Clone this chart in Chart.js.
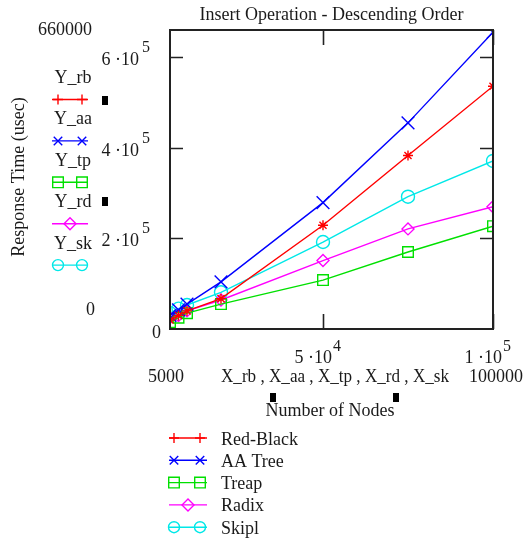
<!DOCTYPE html>
<html>
<head>
<meta charset="utf-8">
<script src="https://cdn.jsdelivr.net/npm/chart.js@4"></script>
<style>
  html, body { margin: 0; padding: 0; background: #fff; }
</style>
</head>
<body>
<canvas id="insert-desc-chart" width="523" height="539"></canvas>
<script>
// number of nodes (x) and response times in usec (y)
const nodes = [5000, 7500, 10000, 20000, 50000, 75000, 100000];
const yRedBlack = [20000, 30000, 40000, 67000, 229000, 383000, 536000];
const yAATree = [30000, 42000, 55000, 104000, 279000, 455000, 655000];
const yTreap = [15000, 25000, 35000, 55000, 108000, 170000, 227000];
const yRadix = [25000, 30000, 40000, 64000, 151000, 221000, 270000];
const ySkipl = [35000, 45000, 53000, 81000, 192000, 292000, 371000];

const seriesNames = ["Red-Black", "AA Tree", "Treap", "Radix", "Skipl"];
const varNames = ["Y_rb", "Y_aa", "Y_tp", "Y_rd", "Y_sk"];
const yTicks = [200000, 400000, 600000];
const xTicks = [50000, 100000];
const xMin = 5000, xMax = 100000, yMin = 0, yMax = 660000;

const FONT = "18px 'Liberation Serif', 'Times New Roman', serif";
const SUP = "16px 'Liberation Serif', 'Times New Roman', serif";
const TXT = "#1a1a1a";

// marker looks (plot / legend)
const looks = [
  { color: "#ff0000", plot: "star", r: 5, legend: "cross", lr: 5 },
  { color: "#0000ff", plot: "crossRot", r: 9, legend: "crossRot", lr: 6 },
  { color: "#00e000", plot: "rect", r: 7.5, legend: "rect", lr: 7.5 },
  { color: "#ff00ff", plot: "rectRot", r: 6, legend: "rectRot", lr: 6 },
  { color: "#00e8e8", plot: "circle", r: 6.5, legend: "circle", lr: 5.5 },
];

const allY = [yRedBlack, yAATree, yTreap, yRadix, ySkipl];

const datasets = allY.map((ys, i) => ({
  label: seriesNames[i],
  data: nodes.map((x, k) => ({ x: x, y: ys[k] })),
  borderColor: looks[i].color,
  backgroundColor: "rgba(0,0,0,0)",
  borderWidth: 1.4,
  pointStyle: looks[i].plot,
  pointRadius: looks[i].r,
  pointBorderWidth: 1.4,
  pointBorderColor: looks[i].color,
  pointBackgroundColor: "rgba(0,0,0,0)",
  tension: 0,
}));

function sci(v) {
  const e = Math.floor(Math.log10(v));
  const m = Math.round(v / Math.pow(10, e));
  return { main: m + " \u00b710", exp: String(e) };
}

function legendRow(ctx, i, x1, x2, y, xs) {
  const lk = looks[i];
  ctx.save();
  ctx.strokeStyle = lk.color;
  ctx.fillStyle = "rgba(0,0,0,0)";
  ctx.lineWidth = 1.4;
  ctx.beginPath();
  ctx.moveTo(x1, y);
  ctx.lineTo(x2, y);
  ctx.stroke();
  xs.forEach(function (mx) {
    Chart.helpers.drawPoint(ctx, { pointStyle: lk.legend, radius: lk.lr, borderWidth: 1.4, rotation: 0 }, mx, y);
  });
  ctx.restore();
}

const mathcadLook = {
  id: "mathcadLook",
  afterDraw(chart) {
    const ctx = chart.ctx;
    const a = chart.chartArea;
    const xs = chart.scales.x, ys = chart.scales.y;

    // frame and inner ticks
    ctx.save();
    ctx.strokeStyle = "#222";
    ctx.lineWidth = 2;
    ctx.strokeRect(a.left, a.top, a.right - a.left, a.bottom - a.top);
    ctx.lineWidth = 1.6;
    ctx.beginPath();
    yTicks.forEach(function (v) {
      const py = Math.round(ys.getPixelForValue(v)) + 0.5;
      ctx.moveTo(a.left, py); ctx.lineTo(a.left + 13, py);
      ctx.moveTo(a.right, py); ctx.lineTo(a.right - 13, py);
    });
    xTicks.forEach(function (v) {
      const px = Math.round(xs.getPixelForValue(v)) + 0.5;
      ctx.moveTo(px, a.bottom); ctx.lineTo(px, a.bottom - 15);
      ctx.moveTo(px, a.top); ctx.lineTo(px, a.top + 15);
    });
    ctx.stroke();

    ctx.fillStyle = TXT;
    ctx.font = FONT;
    ctx.textBaseline = "alphabetic";

    // title
    ctx.textAlign = "center";
    ctx.fillText("Insert Operation - Descending Order", (a.left + a.right) / 2, 20);

    // y tick labels
    yTicks.forEach(function (v) {
      const py = ys.getPixelForValue(v);
      const t = sci(v);
      ctx.font = FONT; ctx.textAlign = "right";
      ctx.fillText(t.main, 139, py + 8);
      ctx.font = SUP; ctx.textAlign = "left";
      ctx.fillText(t.exp, 142, py - 5);
    });
    // x tick labels
    xTicks.forEach(function (v) {
      const px = xs.getPixelForValue(v);
      const t = sci(v);
      ctx.font = FONT; ctx.textAlign = "right";
      ctx.fillText(t.main, px + 9, 363);
      ctx.font = SUP; ctx.textAlign = "left";
      ctx.fillText(t.exp, px + 10, 351);
    });

    ctx.font = FONT;
    ctx.textAlign = "left";
    ctx.fillText(String(yMax), 38, 35);
    ctx.fillText(String(yMin), 86, 315);
    ctx.fillText("0", 152, 338);
    ctx.fillText(String(xMin), 148, 382);
    ctx.fillText(String(xMax), 469, 382);
    ctx.textAlign = "center";
    ctx.fillText("X_rb , X_aa , X_tp , X_rd , X_sk", 335, 382, 228);
    ctx.fillText("Number of Nodes", 330, 416);

    // y axis title
    ctx.save();
    ctx.translate(24, 177);
    ctx.rotate(-Math.PI / 2);
    ctx.fillText("Response Time (usec)", 0, 0);
    ctx.restore();

    // little black marks
    ctx.fillStyle = "#000";
    ctx.fillRect(102, 96, 6, 9);
    ctx.fillRect(102, 197, 6, 9);
    ctx.fillRect(270, 393, 6, 9);
    ctx.fillRect(393, 393, 6, 9);

    // left variable legend
    ctx.fillStyle = TXT;
    ctx.textAlign = "center";
    for (let i = 0; i < 5; i++) {
      const ly = 99.5 + i * 41.4;
      ctx.fillText(varNames[i], 73, ly - 16.5);
      legendRow(ctx, i, 52, 88, ly, i === 3 ? [70] : [58, 82]);
    }

    // bottom legend
    ctx.textAlign = "left";
    for (let i = 0; i < 5; i++) {
      const ly = 438 + i * 22.3;
      legendRow(ctx, i, 169, 207, ly, i === 3 ? [188] : [174, 200]);
      ctx.fillStyle = TXT;
      ctx.fillText(seriesNames[i], 221, ly + 6.5);
    }
    ctx.restore();
  },
};

new Chart(document.getElementById("insert-desc-chart").getContext("2d"), {
  type: "line",
  data: { datasets: datasets },
  options: {
    responsive: false,
    animation: false,
    layout: { padding: { left: 170, top: 30, right: 30, bottom: 210 } },
    plugins: { legend: { display: false }, tooltip: { enabled: false }, title: { display: false } },
    scales: {
      x: { type: "linear", min: xMin, max: xMax, display: false },
      y: { type: "linear", min: yMin, max: yMax, display: false },
    },
  },
  plugins: [mathcadLook],
});
</script>
</body>
</html>
